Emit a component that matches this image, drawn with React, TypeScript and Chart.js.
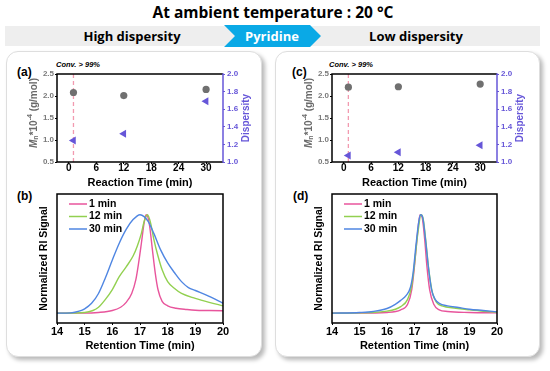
import React, { useEffect, useRef } from "react";
import { Chart, registerables } from "chart.js";
Chart.register(...registerables);

const FONT = "'Liberation Sans', Arial, sans-serif";
const HEAD_FONT = "'Open Sans', 'Noto Sans', sans-serif";

// ---------- data ----------
const reactionTimes = [1, 12, 30];
const reactionTicks = [0, 6, 12, 18, 24, 30];
const mnTicks = [0.5, 1.0, 1.5, 2.0, 2.5];
const dispTicks = [1.0, 1.2, 1.4, 1.6, 1.8, 2.0];
const convTime = 1;

const mnHigh = [2.08, 2.01, 2.15];
const dispHigh = [1.245, 1.32, 1.69];
const mnLow = [2.2, 2.21, 2.27];
const dispLow = [1.075, 1.11, 1.19];

const retentionTicks = [14, 15, 16, 17, 18, 19, 20];
const traceLabels = ["1 min", "12 min", "30 min"];

// (b) high dispersity traces
const bPinkT = [14, 15, 15.5, 16, 16.3, 16.5, 16.7, 16.85, 16.95, 17.05, 17.15, 17.22, 17.28, 17.35, 17.45, 17.55, 17.65, 17.8, 18, 18.3, 18.7, 19, 19.5, 20];
const bPinkS = [0, 0, 0.007, 0.027, 0.06, 0.11, 0.2, 0.34, 0.51, 0.71, 0.92, 1.0, 0.98, 0.88, 0.64, 0.41, 0.24, 0.12, 0.075, 0.05, 0.037, 0.03, 0.027, 0.024];
const bGreenT = [14, 15, 15.3, 15.5, 15.75, 16, 16.25, 16.5, 16.75, 16.9, 17.05, 17.15, 17.27, 17.38, 17.5, 17.65, 17.8, 18, 18.25, 18.5, 19, 19.5, 20];
const bGreenS = [0, 0.007, 0.027, 0.06, 0.14, 0.24, 0.37, 0.47, 0.58, 0.68, 0.81, 0.93, 1.0, 0.92, 0.75, 0.58, 0.44, 0.32, 0.25, 0.2, 0.15, 0.11, 0.075];
const bBlueT = [14, 14.5, 14.8, 15, 15.25, 15.5, 15.75, 16, 16.25, 16.5, 16.75, 17, 17.15, 17.3, 17.5, 17.75, 18, 18.25, 18.5, 18.75, 19, 19.5, 20];
const bBlueS = [0, 0.003, 0.02, 0.044, 0.1, 0.2, 0.36, 0.54, 0.71, 0.85, 0.95, 1.0, 0.98, 0.93, 0.81, 0.64, 0.51, 0.41, 0.32, 0.26, 0.23, 0.17, 0.1];

// (d) low dispersity traces
const dPinkT = [14, 15, 16, 16.5, 16.75, 16.9, 17.0, 17.1, 17.2, 17.28, 17.37, 17.45, 17.55, 17.7, 17.9, 18.2, 19, 20];
const dPinkS = [0, 0, 0.007, 0.034, 0.09, 0.24, 0.48, 0.78, 1.0, 0.97, 0.75, 0.48, 0.24, 0.09, 0.034, 0.017, 0.007, 0.003];
const dGreenT = [14, 15, 16, 16.5, 16.75, 16.9, 17.0, 17.12, 17.24, 17.32, 17.42, 17.52, 17.65, 17.8, 18, 18.5, 19, 19.5, 20];
const dGreenS = [0, 0.003, 0.02, 0.067, 0.14, 0.28, 0.5, 0.81, 1.0, 0.95, 0.71, 0.44, 0.21, 0.11, 0.074, 0.05, 0.034, 0.02, 0.01];
const dBlueT = [14, 15, 15.5, 16, 16.3, 16.5, 16.7, 16.85, 16.95, 17.05, 17.15, 17.22, 17.3, 17.4, 17.5, 17.62, 17.75, 17.9, 18.2, 18.6, 19, 19.5, 20];
const dBlueS = [0, 0.007, 0.017, 0.047, 0.09, 0.13, 0.18, 0.26, 0.41, 0.68, 0.92, 1.0, 0.97, 0.75, 0.48, 0.24, 0.14, 0.1, 0.074, 0.057, 0.04, 0.027, 0.013];

// ---------- styles ----------
const PINK = "#e8559c";
const GREEN = "#92d050";
const BLUE = "#4f86e2";
const PURPLE = "#6656d8";
const GRAY_DOT = "#707070";
const CONV_PINK = "#f29ab0";

const zip = (xs: number[], ys: number[]) => xs.map((x, i) => ({ x, y: ys[i] }));

const framePlugin = {
  id: "frame",
  afterDatasetsDraw(chart: any, _a: any, opts: any) {
    const { ctx, chartArea: a } = chart;
    ctx.save();
    ctx.lineWidth = 1.5;
    ctx.strokeStyle = "#000";
    ctx.beginPath();
    ctx.moveTo(a.right, a.top);
    ctx.lineTo(a.left, a.top);
    ctx.lineTo(a.left, a.bottom);
    ctx.lineTo(a.right, a.bottom);
    if (!opts.rightColor) ctx.closePath();
    ctx.stroke();
    if (opts.rightColor) {
      ctx.strokeStyle = opts.rightColor;
      ctx.beginPath();
      ctx.moveTo(a.right, a.top - 0.75);
      ctx.lineTo(a.right, a.bottom + 0.75);
      ctx.stroke();
    }
    ctx.restore();
  },
};

const axisTitlePlugin = {
  id: "axisTitles",
  afterDraw(chart: any) {
    const { ctx, chartArea: a } = chart;
    const cy = (a.top + a.bottom) / 2;
    ctx.save();
    // left title: M_n*10^-4 (g/mol)
    const pieces = [
      { t: "M", f: `italic bold 10px ${FONT}`, dy: 0 },
      { t: "n", f: `bold 7px ${FONT}`, dy: 2.5 },
      { t: "*10", f: `bold 10px ${FONT}`, dy: 0 },
      { t: "-4", f: `bold 7px ${FONT}`, dy: -3.5 },
      { t: " (g/mol)", f: `bold 10px ${FONT}`, dy: 0 },
    ];
    let total = 0;
    pieces.forEach((p) => {
      ctx.font = p.f;
      total += ctx.measureText(p.t).width;
    });
    ctx.translate(a.left - 23, cy - 5);
    ctx.rotate(-Math.PI / 2);
    ctx.fillStyle = "#6a6a6a";
    ctx.textBaseline = "middle";
    ctx.textAlign = "left";
    let x = -total / 2;
    pieces.forEach((p) => {
      ctx.font = p.f;
      ctx.fillText(p.t, x, p.dy);
      x += ctx.measureText(p.t).width;
    });
    ctx.restore();
    // right title: Dispersity (reads bottom to top)
    ctx.save();
    ctx.translate(a.right + 23, cy);
    ctx.rotate(-Math.PI / 2);
    ctx.fillStyle = PURPLE;
    ctx.font = `bold 10px ${FONT}`;
    ctx.textAlign = "center";
    ctx.textBaseline = "middle";
    ctx.fillText("Dispersity", 0, 0);
    ctx.restore();
  },
};

const legendPlugin = {
  id: "inLegend",
  afterDatasetsDraw(chart: any) {
    const { ctx, chartArea: a } = chart;
    ctx.save();
    chart.data.datasets.forEach((ds: any, i: number) => {
      const y = a.top + 10 + i * 12.5;
      ctx.strokeStyle = ds.borderColor;
      ctx.lineWidth = 1.5;
      ctx.beginPath();
      ctx.moveTo(a.left + 12, y);
      ctx.lineTo(a.left + 30, y);
      ctx.stroke();
      ctx.fillStyle = "#000";
      ctx.font = `bold 10.5px ${FONT}`;
      ctx.textBaseline = "middle";
      ctx.textAlign = "left";
      ctx.fillText(ds.label, a.left + 32, y);
    });
    ctx.restore();
  },
};

function scatterConfig(mn: number[], disp: number[], rightW: number) {
  return {
    type: "scatter",
    data: {
      datasets: [
        {
          label: "Mn",
          data: zip(reactionTimes, mn),
          yAxisID: "y",
          pointStyle: "circle",
          pointRadius: 3.6,
          backgroundColor: GRAY_DOT,
          borderWidth: 0,
        },
        {
          label: "Dispersity",
          data: zip(reactionTimes, disp),
          yAxisID: "y2",
          pointStyle: "triangle",
          rotation: -90,
          pointRadius: 4.6,
          backgroundColor: PURPLE,
          borderColor: PURPLE,
          borderWidth: 0,
        },
        {
          label: "conv",
          data: [
            { x: convTime, y: mnTicks[0] },
            { x: convTime, y: mnTicks[mnTicks.length - 1] },
          ],
          yAxisID: "y",
          showLine: true,
          borderColor: CONV_PINK,
          borderDash: [4, 3],
          borderWidth: 1.3,
          pointRadius: 0,
        },
      ],
    },
    options: {
      animation: false,
      responsive: false,
      devicePixelRatio: 1,
      layout: { padding: { left: 0, right: 0, top: 22, bottom: 0 } },
      plugins: { legend: { display: false }, tooltip: { enabled: false }, frame: { rightColor: PURPLE } },
      scales: {
        x: {
          type: "linear",
          min: -2.6,
          max: 33.7,
          afterBuildTicks: (s: any) => {
            s.ticks = reactionTicks.map((v) => ({ value: v }));
          },
          afterFit: (s: any) => {
            s.height = 28;
          },
          ticks: { font: { family: FONT, size: 10, weight: "bold", lineHeight: 1 }, color: "#000", padding: -1 },
          grid: { display: true, drawOnChartArea: false, drawTicks: true, tickLength: 2, color: "#000" },
          border: { display: false },
          title: {
            display: true,
            text: "Reaction Time (min)",
            color: "#000",
            font: { family: FONT, size: 11, weight: "bold" },
            padding: 0,
          },
        },
        y: {
          position: "left",
          min: 0.5,
          max: 2.5,
          afterBuildTicks: (s: any) => {
            s.ticks = mnTicks.map((v) => ({ value: v }));
          },
          afterFit: (s: any) => {
            s.width = 57;
          },
          ticks: {
            font: { family: FONT, size: 8, weight: "bold" },
            color: "#7a7a7a",
            padding: 1,
            callback: (v: number) => v.toFixed(1),
          },
          grid: { display: true, drawOnChartArea: false, drawTicks: true, tickLength: 2, color: "#000" },
          border: { display: false },
        },
        y2: {
          position: "right",
          min: 1.0,
          max: 2.0,
          afterBuildTicks: (s: any) => {
            s.ticks = dispTicks.map((v) => ({ value: v }));
          },
          afterFit: (s: any) => {
            s.width = rightW;
          },
          ticks: {
            font: { family: FONT, size: 8, weight: "bold" },
            color: PURPLE,
            padding: 2,
            callback: (v: number) => v.toFixed(1),
          },
          grid: { display: true, drawOnChartArea: false, drawTicks: true, tickLength: 2, color: PURPLE },
          border: { display: false },
        },
      },
    },
    plugins: [framePlugin, axisTitlePlugin],
  };
}

function gpcConfig(traces: { t: number[]; s: number[] }[], rightPad: number) {
  const colors = [PINK, GREEN, BLUE];
  return {
    type: "scatter",
    data: {
      datasets: traces.map((tr, i) => ({
        label: traceLabels[i],
        data: zip(tr.t, tr.s),
        showLine: true,
        borderColor: colors[i],
        borderWidth: 1.4,
        pointRadius: 0,
        cubicInterpolationMode: "monotone",
        order: 3 - i,
      })),
    },
    options: {
      animation: false,
      responsive: false,
      devicePixelRatio: 1,
      layout: { padding: { left: 0, right: rightPad, top: 7, bottom: 0 } },
      plugins: { legend: { display: false }, tooltip: { enabled: false }, frame: {} },
      scales: {
        x: {
          type: "linear",
          min: 14,
          max: 20,
          afterBuildTicks: (s: any) => {
            s.ticks = retentionTicks.map((v) => ({ value: v }));
          },
          afterFit: (s: any) => {
            s.height = 30;
          },
          ticks: { font: { family: FONT, size: 11, weight: "bold", lineHeight: 1 }, color: "#000", padding: 1.5 },
          grid: { display: true, drawOnChartArea: false, drawTicks: true, tickLength: 2, color: "#000" },
          border: { display: false },
          title: {
            display: true,
            text: "Retention Time (min)",
            color: "#000",
            font: { family: FONT, size: 11, weight: "bold" },
            padding: 0,
          },
        },
        y: {
          min: -0.1,
          max: 1.21,
          afterFit: (s: any) => {
            s.width = 57;
          },
          ticks: { display: false },
          grid: { display: false },
          border: { display: false },
          title: {
            display: true,
            text: "Normalized RI Signal",
            color: "#000",
            font: { family: FONT, size: 10.5, weight: "bold" },
            padding: { top: 38.2, bottom: 0 },
          },
        },
      },
    },
    plugins: [framePlugin, legendPlugin],
  };
}

function ChartBox({ config, left, top, width, height }: any) {
  const ref = useRef<HTMLCanvasElement>(null);
  useEffect(() => {
    const chart = new Chart(ref.current as HTMLCanvasElement, config);
    return () => chart.destroy();
  }, []);
  return (
    <canvas
      ref={ref}
      width={width}
      height={height}
      style={{ position: "absolute", left, top, width, height }}
    />
  );
}

const abs = (s: any) => ({ position: "absolute" as const, ...s });

export default function App() {
  const panelStyle = {
    position: "absolute" as const,
    top: 51,
    height: 306,
    background: "#fff",
    border: "1px solid #dedede",
    borderRadius: 12,
    boxShadow: "3px 3px 4px rgba(0,0,0,0.28)",
    boxSizing: "border-box" as const,
  };
  const panelLabel = { fontFamily: FONT, fontWeight: 700, fontSize: 12, lineHeight: "14px", color: "#000" };
  const convLabel = { fontFamily: FONT, fontWeight: 700, fontStyle: "italic", fontSize: 7.5, lineHeight: "9px", color: "#000" };
  const bandText = { fontFamily: HEAD_FONT, fontWeight: 700, fontSize: 13, lineHeight: "20px", color: "#000", textAlign: "center" as const };
  return (
    <div style={{ position: "absolute", left: 0, top: 0, width: 550, height: 371, background: "#fff", overflow: "hidden" }}>
      <div style={abs({ left: 0, top: 1, width: 546, textAlign: "center", fontFamily: HEAD_FONT, fontWeight: 700, fontSize: 15.5, lineHeight: "22px", color: "#000" })}>
        At ambient temperature : 20 °C
      </div>
      <div style={abs({ left: 5, top: 26, width: 535, height: 20, background: "#eeeeee" })} />
      <div style={abs({ left: 32, top: 26, width: 200, ...bandText })}>High dispersity</div>
      <div
        style={abs({
          left: 224,
          top: 25,
          width: 97,
          height: 22,
          background: "#0aa9e6",
          clipPath: "polygon(0px 0px, 86px 0px, 97px 11px, 86px 22px, 0px 22px, 11px 11px)",
        })}
      />
      <div style={abs({ left: 222, top: 26, width: 100, ...bandText, color: "#fff" })}>Pyridine</div>
      <div style={abs({ left: 316, top: 26, width: 200, ...bandText })}>Low dispersity</div>

      <div style={{ ...panelStyle, left: 6, width: 256 }} />
      <div style={{ ...panelStyle, left: 275, width: 265 }} />

      <div style={abs({ left: 17, top: 65, ...panelLabel })}>(a)</div>
      <div style={abs({ left: 17, top: 189, ...panelLabel })}>(b)</div>
      <div style={abs({ left: 292, top: 65, ...panelLabel })}>(c)</div>
      <div style={abs({ left: 293, top: 189, ...panelLabel })}>(d)</div>
      <div style={abs({ left: 56, top: 59.5, ...convLabel })}>Conv. &gt; 99%</div>
      <div style={abs({ left: 329, top: 59.5, ...convLabel })}>Conv. &gt; 99%</div>

      <ChartBox config={scatterConfig(mnHigh, dispHigh, 39)} left={0} top={52} width={262} height={138} />
      <ChartBox config={scatterConfig(mnLow, dispLow, 45)} left={275} top={52} width={267} height={138} />
      <ChartBox
        config={gpcConfig(
          [
            { t: bPinkT, s: bPinkS },
            { t: bGreenT, s: bGreenS },
            { t: bBlueT, s: bBlueS },
          ],
          39
        )}
        left={0}
        top={187}
        width={262}
        height={166}
      />
      <ChartBox
        config={gpcConfig(
          [
            { t: dPinkT, s: dPinkS },
            { t: dGreenT, s: dGreenS },
            { t: dBlueT, s: dBlueS },
          ],
          45
        )}
        left={275}
        top={187}
        width={267}
        height={166}
      />
    </div>
  );
}
